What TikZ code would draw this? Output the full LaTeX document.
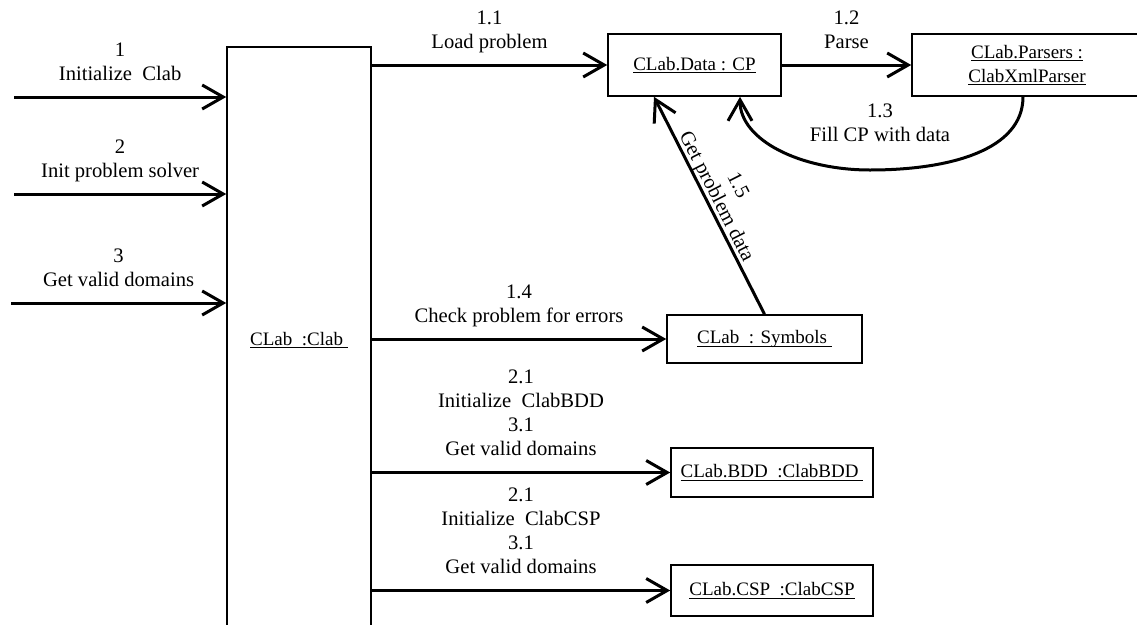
\documentclass[tikz,border=0pt]{standalone}
\usepackage{fontspec}
\setmainfont{Liberation Serif}
\usetikzlibrary{arrows.meta}
% underline at a fixed depth below the baseline
\newcommand\uln[1]{\leavevmode\setbox0=\hbox{#1}\rlap{\rule[-3pt]{\wd0}{1pt}}\box0}

\begin{document}
\begin{tikzpicture}[x=1pt,y=-1pt,
  obj/.style={draw, line width=1.6pt, inner sep=0pt, align=center,
    font=\fontsize{19}{24}\selectfont},
  msg/.style={line width=3pt, line join=round,
    -{Straight Barb[length=21pt,width=24pt]}},
  lbl/.style={above=7.8pt, inner sep=0pt, align=center,
    font=\fontsize{20.6}{24.2}\selectfont}]

\path[use as bounding box] (0,0) rectangle (1137,624);
\clip (0,0) rectangle (1137,624);

% objects
\node[obj, minimum width=144pt, minimum height=586pt] (clab) at (299,340)
  {\uln{CLab\ \ :Clab\ }};
\node[obj, minimum width=173pt, minimum height=62pt] (cp) at (694.5,65)
  {\uln{CLab.Data : CP}};
\node[obj, minimum width=230pt, minimum height=62pt] (parsers) at (1027,65)
  {\uln{CLab.Parsers :}\\\uln{ClabXmlParser}};
\node[obj, minimum width=195pt, minimum height=48pt] (sym) at (764.5,339)
  {\uln{CLab\ \ : Symbols\ }};
\node[obj, minimum width=202pt, minimum height=49pt] (bdd) at (772,472.5)
  {\uln{CLab.BDD\ \ :ClabBDD\ }};
\node[obj, minimum width=202pt, minimum height=51pt] (csp) at (772,590.5)
  {\uln{CLab.CSP\ \ :ClabCSP}};

% incoming messages
\coordinate (s1) at (14,97);
\coordinate (s2) at (14,194);
\coordinate (s3) at (11,303);
\draw[msg] (s1) -- node[lbl]{1\\Initialize\ \ Clab\strut} (s1 -| clab.west);
\draw[msg] (s2) -- node[lbl]{2\\Init problem solver\strut} (s2 -| clab.west);
\draw[msg] (s3) -- node[lbl]{3\\Get valid domains\strut} (s3 -| clab.west);

% messages between objects
\draw[msg] (clab.east |- cp.west) -- node[lbl]{1.1\\Load problem\strut} (cp.west);
\draw[msg] (cp.east) -- node[lbl]{1.2\\Parse\strut} (parsers.west);
\draw[msg] ([xshift=-4pt]parsers.south)
  .. controls (1023,150) and (950,170) .. (870,170)
  node[lbl, above=12pt, xshift=10pt]{1.3\\Fill CP with data\strut}
  .. controls (800,170) and (740,140) .. ([xshift=45.5pt]cp.south);
\draw[msg] (sym.north) -- node[sloped, above=-1pt, pos=0.52, inner sep=0pt,
    align=center, font=\fontsize{20.6}{24}\selectfont]{1.5\\Get problem data}
  ([xshift=-40.5pt]cp.south);
\draw[msg] (clab.east |- sym.west) --
  node[lbl]{1.4\\Check problem for errors\strut} (sym.west);
\draw[msg] (clab.east |- bdd.west) --
  node[lbl]{2.1\\Initialize\ \ ClabBDD\\3.1\\Get valid domains\strut} (bdd.west);
\draw[msg] (clab.east |- csp.west) --
  node[lbl]{2.1\\Initialize\ \ ClabCSP\\3.1\\Get valid domains\strut} (csp.west);
\end{tikzpicture}
\end{document}
